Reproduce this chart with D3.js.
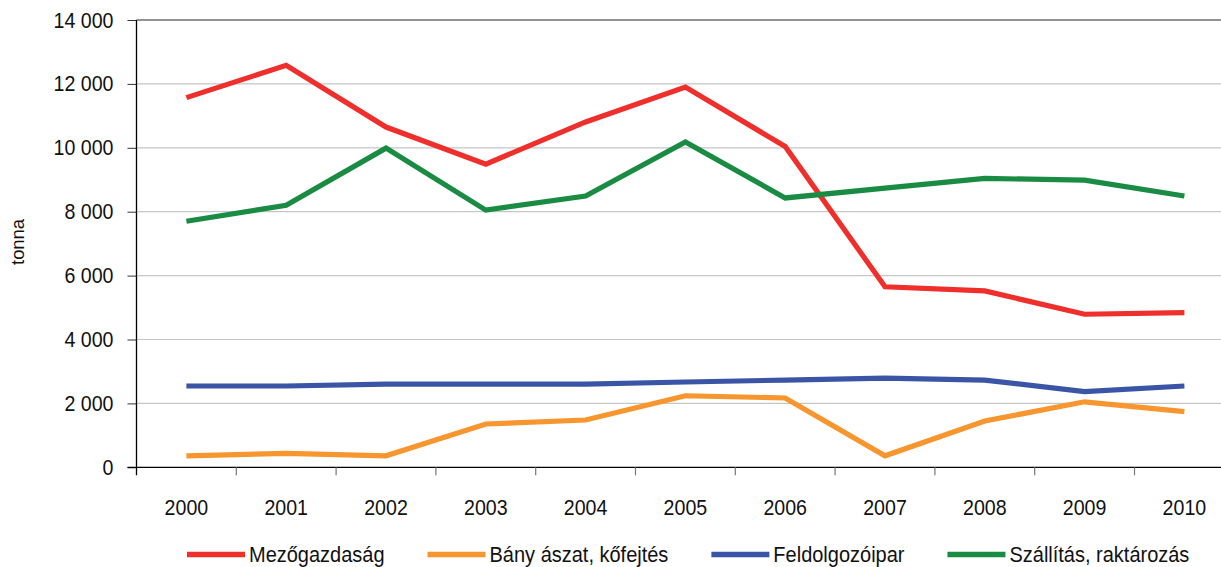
<!DOCTYPE html>
<html><head><meta charset="utf-8">
<script src="https://cdn.jsdelivr.net/npm/d3@7"></script>
<style>
html,body{margin:0;padding:0;background:#fff;}
svg{display:block;font-family:"Liberation Sans",Arial,sans-serif;}
</style></head>
<body>
<svg id="c" width="1221" height="567"></svg>
<script>
const years = ["2000","2001","2002","2003","2004","2005","2006","2007","2008","2009","2010"];
const mezogazdasag = [11570,12580,10650,9490,10810,11900,10040,5650,5520,4790,4840];
const banyaszat = [360,435,360,1355,1480,2240,2170,360,1450,2050,1740];
const feldolgozoipar = [2545,2545,2605,2605,2605,2670,2730,2790,2730,2370,2545];
const szallitas = [7700,8200,9990,8050,8490,10180,8430,8740,9040,8990,8490];
const seriesNames = ["Mezőgazdaság","Bány ászat, kőfejtés","Feldolgozóipar","Szállítás, raktározás"];
const seriesColors = ["#EE2F2B","#F7962F","#3A55A5","#198B42"];
const yTicks = [0,2000,4000,6000,8000,10000,12000,14000];
const yLabel = "tonna";

(function(){
const series = [mezogazdasag, banyaszat, feldolgozoipar, szallitas];
const svg = d3.select("#c");
const pLeft = 136.5, pTop = 20, pBottom = 467.3, pRight = 1221;
const step = 99.8;
const fs = "19.6px", sy = 1.12;
const x = d3.scaleBand().domain(years).range([pLeft, pLeft + step*years.length]).padding(0);
const y = d3.scaleLinear().domain([0,14000]).range([pBottom, pTop]);
const loc = d3.formatLocale({decimal:",", thousands:" ", grouping:[3], currency:["",""]});
const fmt = loc.format(",");

// gridlines
svg.append("g").selectAll("line").data(yTicks.filter(d=>d>0)).join("line")
  .attr("x1", pLeft).attr("x2", pRight)
  .attr("y1", d=>y(d)).attr("y2", d=>y(d))
  .attr("stroke", d=> d===14000 ? "#6f6f6f" : "#c6c6c6")
  .attr("stroke-width", d=> d===14000 ? 1.6 : 1.2);

// y axis
const ya = svg.append("g").attr("transform",`translate(${pLeft},0)`)
  .call(d3.axisLeft(y).tickValues(yTicks).tickFormat(fmt).tickSize(9).tickPadding(14));
ya.select(".domain").remove();
ya.selectAll(".tick line").attr("stroke","#333");
ya.selectAll("text").attr("font-size",fs).attr("fill","#111")
  .attr("font-family","'Liberation Sans',Arial,sans-serif")
  .attr("transform",`scale(1,${sy})`);
svg.append("line").attr("x1",pLeft).attr("x2",pLeft).attr("y1",pTop).attr("y2",pBottom+8)
  .attr("stroke","#000").attr("stroke-width",1.3);

// x axis
svg.append("line").attr("x1",pLeft-9).attr("x2",pRight).attr("y1",pBottom).attr("y2",pBottom)
  .attr("stroke","#000").attr("stroke-width",1.3);
svg.append("g").selectAll("line").data(years.slice(1)).join("line")
  .attr("x1", d=>x(d)).attr("x2", d=>x(d))
  .attr("y1", pBottom).attr("y2", pBottom+8)
  .attr("stroke","#777").attr("stroke-width",1.2);
svg.append("g").selectAll("text").data(years).join("text")
  .attr("transform", d=>`translate(${x(d)+x.bandwidth()/2},515) scale(1,${sy})`)
  .attr("text-anchor","middle").attr("font-size",fs).attr("fill","#111")
  .text(d=>d);

// y label
svg.append("text").attr("transform",`translate(24,242) rotate(-90) scale(1.05,1)`)
  .attr("text-anchor","middle").attr("font-size","17.5px").attr("fill","#111").text(yLabel);

// lines
const line = d3.line().x((d,i)=>x(years[i])+x.bandwidth()/2).y(d=>y(d));
svg.append("g").selectAll("path").data(series).join("path")
  .attr("d", d=>line(d)).attr("fill","none")
  .attr("stroke",(d,i)=>seriesColors[i]).attr("stroke-width",5.2)
  .attr("stroke-linejoin","miter");

// legend
const lg = svg.append("g");
let cx = 187;
seriesNames.forEach((n,i)=>{
  lg.append("line").attr("x1",cx).attr("x2",cx+58).attr("y1",554.5).attr("y2",554.5)
    .attr("stroke",seriesColors[i]).attr("stroke-width",5.5);
  const t = lg.append("text").attr("transform",`translate(${cx+62},561.5) scale(1,1.08)`)
    .attr("font-size","20px").attr("fill","#111").text(n);
  cx = cx + 62 + t.node().getComputedTextLength() + 43;
});
})();
</script>
</body></html>
